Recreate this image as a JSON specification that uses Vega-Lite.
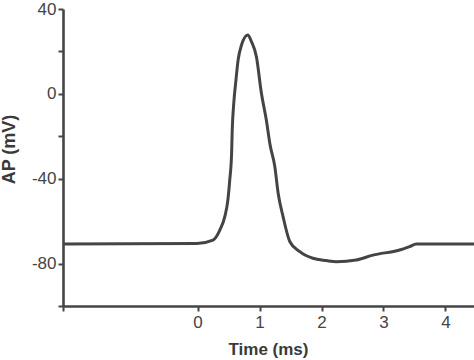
{
  "$schema": "https://vega.github.io/schema/vega-lite/v6.json",
  "autosize": "none",
  "padding": {"left": 63, "top": 9, "right": 0, "bottom": 54},
  "width": 411,
  "height": 297,
  "background": "white",
  "config": {
    "view": {"stroke": null},
    "font": "Liberation Sans",
    "axis": {
      "grid": false,
      "domainColor": "#454545",
      "domainWidth": 2.6,
      "tickColor": "#454545",
      "tickWidth": 2,
      "tickSize": 5,
      "labelColor": "#444444",
      "labelFont": "Liberation Sans",
      "labelFontSize": 17,
      "titleColor": "#3a3a3a",
      "titleFont": "Liberation Sans",
      "titleFontSize": 17,
      "titleFontWeight": "bold"
    }
  },
  "data": {
    "values": [
      {"t": -2.17, "v": -70.8},
      {"t": -0.01, "v": -70.5},
      {"t": 0.25, "v": -68.9},
      {"t": 0.36, "v": -64.2},
      {"t": 0.44, "v": -57.9},
      {"t": 0.49, "v": -50.0},
      {"t": 0.52, "v": -40.6},
      {"t": 0.55, "v": -27.9},
      {"t": 0.56, "v": -17.0},
      {"t": 0.585, "v": -4.3},
      {"t": 0.62, "v": 6.5},
      {"t": 0.655, "v": 16.0},
      {"t": 0.71, "v": 23.0},
      {"t": 0.81, "v": 27.7},
      {"t": 0.87, "v": 24.6},
      {"t": 0.95, "v": 17.5},
      {"t": 1.03, "v": 0.4},
      {"t": 1.11, "v": -12.3},
      {"t": 1.17, "v": -24.0},
      {"t": 1.247, "v": -34.3},
      {"t": 1.3, "v": -46.7},
      {"t": 1.38, "v": -57.9},
      {"t": 1.49, "v": -69.7},
      {"t": 1.65, "v": -74.4},
      {"t": 1.86, "v": -77.5},
      {"t": 2.08, "v": -78.6},
      {"t": 2.24, "v": -79.1},
      {"t": 2.56, "v": -78.3},
      {"t": 2.83, "v": -76.0},
      {"t": 3.26, "v": -73.6},
      {"t": 3.42, "v": -72.0},
      {"t": 3.53, "v": -70.8},
      {"t": 4.46, "v": -70.8}
    ]
  },
  "mark": {"type": "line", "color": "#444444", "strokeWidth": 3, "interpolate": "monotone", "clip": true},
  "encoding": {
    "x": {
      "field": "t",
      "type": "quantitative",
      "scale": {"domain": [-2.17, 4.46], "nice": false, "zero": false},
      "axis": {
        "title": "Time (ms)",
        "values": [-2.17, 0, 1, 2, 3, 4],
        "labelExpr": "datum.value < -1 ? '' : datum.label",
        "labelPadding": 3,
        "titleX": 205,
        "titleY": 43,
        "titleAnchor": null,
        "titleBaseline": "middle",
        "titleAlign": "center"
      }
    },
    "y": {
      "field": "v",
      "type": "quantitative",
      "scale": {"domain": [-100, 40], "nice": false},
      "axis": {
        "title": "AP (mV)",
        "titleFontSize": 18,
        "values": [40, 20, 0, -20, -40, -80, -100],
        "labelExpr": "(datum.value == 20 || datum.value == -20 || datum.value == -100) ? '' : replace(datum.label, '\u2212', '-')",
        "labelPadding": 2,
        "titleX": -54,
        "titleY": 140,
        "titleAngle": -90,
        "titleBaseline": "middle",
        "titleAlign": "center"
      }
    }
  }
}
